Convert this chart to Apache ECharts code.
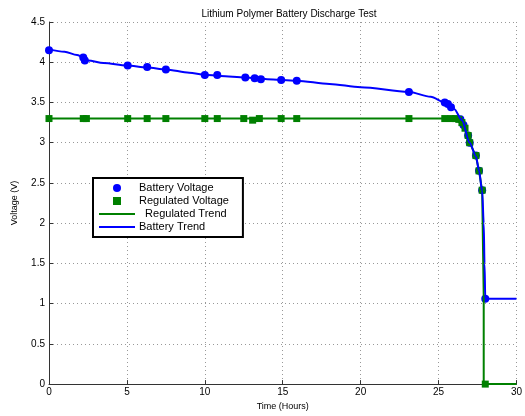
<!DOCTYPE html>
<html><head><meta charset="utf-8">
<script src="https://cdn.jsdelivr.net/npm/echarts@6/dist/echarts.min.js"></script>
<style>html,body{margin:0;padding:0;background:#fff}#c{width:525px;height:416px}</style>
</head><body><div id="c"></div>
<script>
const titleText = 'Lithium Polymer Battery Discharge Test';
const xTicks = [0, 5, 10, 15, 20, 25, 30];
const yTicks = [0, 0.5, 1, 1.5, 2, 2.5, 3, 3.5, 4, 4.5];

const batteryTime = [0, 2.2, 2.3, 5.05, 6.3, 7.5, 10.0, 10.8, 12.6, 13.2, 13.6, 14.9, 15.9, 23.1, 25.4, 25.6, 25.8, 26.4, 26.6, 26.9, 27.0, 27.4, 27.6, 27.8, 28.0];
const batteryVolt = [4.15, 4.06, 4.02, 3.96, 3.94, 3.91, 3.84, 3.84, 3.81, 3.80, 3.79, 3.78, 3.77, 3.63, 3.50, 3.48, 3.44, 3.29, 3.22, 3.09, 3.00, 2.84, 2.65, 2.41, 1.06];

const regTime = [0, 2.2, 2.4, 5.05, 6.3, 7.5, 10.0, 10.8, 12.5, 13.07, 13.5, 14.9, 15.9, 23.1, 25.4, 25.8, 26.1, 26.3, 26.5, 26.7, 26.9, 27.0, 27.4, 27.6, 27.8, 28.0];
const regVolt = [3.30, 3.30, 3.30, 3.30, 3.30, 3.30, 3.30, 3.30, 3.30, 3.28, 3.30, 3.30, 3.30, 3.30, 3.30, 3.30, 3.30, 3.29, 3.25, 3.18, 3.09, 3.00, 2.84, 2.65, 2.41, 0];

const battTrendTime = [0, 1, 1.8, 2.2, 2.5, 3.5, 5, 6.3, 7.5, 9, 10, 11, 12.6, 14, 15.9, 18, 20, 23.1, 24.5, 25.4, 26, 26.5, 27, 27.4, 27.6, 27.8, 27.9, 27.95, 28.0, 28.2, 30];
const battTrendVolt = [4.16, 4.13, 4.09, 4.06, 4.02, 3.99, 3.96, 3.935, 3.91, 3.87, 3.845, 3.83, 3.81, 3.79, 3.77, 3.73, 3.69, 3.63, 3.57, 3.50, 3.42, 3.28, 3.00, 2.83, 2.65, 2.40, 2.00, 1.50, 1.07, 1.06, 1.06];

const regTrendTime = [0, 25.8, 26.1, 26.4, 26.7, 27.0, 27.4, 27.6, 27.8, 27.9, 27.9, 30];
const regTrendVolt = [3.30, 3.30, 3.29, 3.26, 3.17, 3.00, 2.83, 2.65, 2.40, 1.10, 0, 0];

const zip = (a, b) => a.map((v, i) => [v, b[i]]);
const BLUE = '#0000ff', GREEN = '#008000';
const FONT = 'Liberation Sans, Arial, sans-serif';
const LINE_ICON = 'path://M0,0h36v2.2h-36z';
const SQUARE_ICON = 'path://M0,0h1v1h-1z';

const chart = echarts.init(document.getElementById('c'), null, {renderer: 'canvas'});
chart.setOption({
  animation: false,
  backgroundColor: '#ffffff',
  title: {text: titleText, left: 284, top: 4, textAlign: 'center',
    textStyle: {fontSize: 10, fontWeight: 'normal', color: '#000', fontFamily: FONT}},
  grid: {left: 49, right: 7, top: 22, bottom: 25},
  legend: {
    orient: 'vertical', left: 93, top: 178,
    backgroundColor: '#fff', borderColor: '#000', borderWidth: 2,
    padding: [4, 14, 4, 6], itemGap: 1, itemWidth: 36, itemHeight: 8,
    formatter: (name) => name === 'Regulated Trend' ? '  ' + name : name,
    textStyle: {fontSize: 11, lineHeight: 12, color: '#000', fontFamily: FONT, padding: [0, 0, 0, -1]},
    data: [
      {name: 'Battery Voltage', icon: 'circle'},
      {name: 'Regulated Voltage', icon: SQUARE_ICON},
      {name: 'Regulated Trend', icon: LINE_ICON},
      {name: 'Battery Trend', icon: LINE_ICON}
    ]
  },
  xAxis: {
    type: 'value', min: 0, max: 30, interval: 5,
    name: 'Time (Hours)', nameLocation: 'middle', nameGap: 16,
    nameTextStyle: {fontSize: 9, color: '#000', fontFamily: FONT},
    axisLine: {lineStyle: {color: '#333', width: 1}},
    axisTick: {inside: true, length: 4, lineStyle: {color: '#333'}},
    axisLabel: {fontSize: 10, color: '#000', fontFamily: FONT, margin: 3},
    splitLine: {show: true, lineStyle: {color: '#999', type: [1, 3], width: 1}}
  },
  yAxis: {
    type: 'value', min: 0, max: 4.5, interval: 0.5,
    name: 'Voltage (V)', nameLocation: 'middle', nameGap: 30,
    nameTextStyle: {fontSize: 9, color: '#000', fontFamily: FONT},
    axisLine: {show: true, lineStyle: {color: '#333', width: 1}},
    axisTick: {show: true, inside: true, length: 4, lineStyle: {color: '#333'}},
    axisLabel: {fontSize: 10, color: '#000', fontFamily: FONT, margin: 4},
    splitLine: {show: true, lineStyle: {color: '#999', type: [1, 3], width: 1}}
  },
  series: [
    {name: 'Battery Voltage', type: 'scatter', symbol: 'circle', symbolSize: 8,
      itemStyle: {color: BLUE, opacity: 1}, data: zip(batteryTime, batteryVolt), z: 2},
    {name: 'Regulated Voltage', type: 'scatter', symbol: 'rect', symbolSize: 7,
      itemStyle: {color: GREEN, opacity: 1}, data: zip(regTime, regVolt), z: 3},
    {name: 'Regulated Trend', type: 'line', symbol: 'none', smooth: false,
      lineStyle: {color: GREEN, width: 2}, itemStyle: {color: GREEN},
      data: zip(regTrendTime, regTrendVolt), z: 4},
    {name: 'Battery Trend', type: 'line', symbol: 'none', smooth: 0.3, smoothMonotone: 'x',
      lineStyle: {color: BLUE, width: 2}, itemStyle: {color: BLUE},
      data: zip(battTrendTime, battTrendVolt), z: 5}
  ]
});
</script></body></html>
